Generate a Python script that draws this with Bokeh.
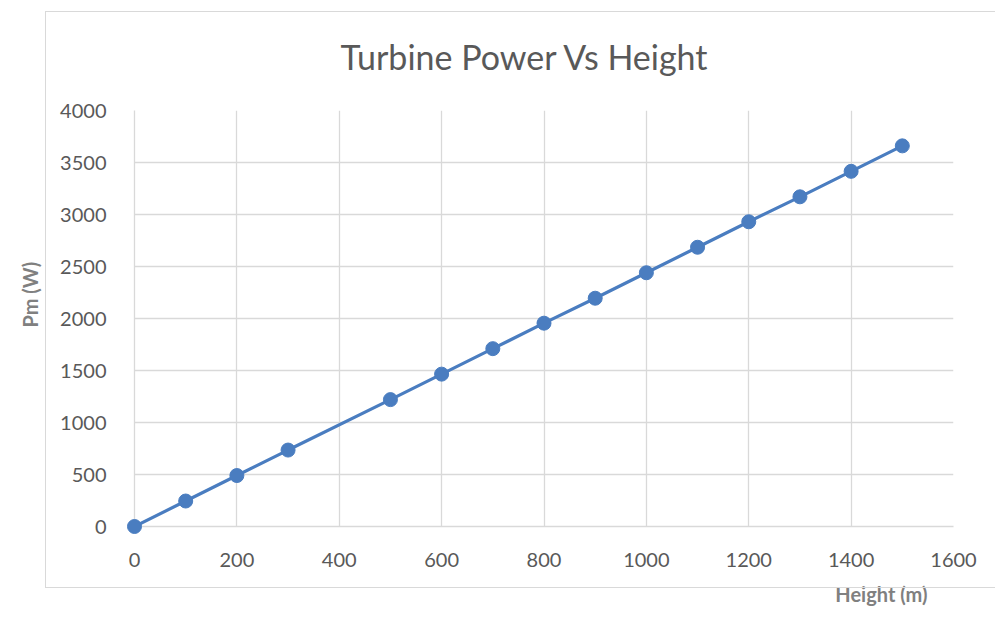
from bokeh.plotting import figure
from bokeh.models import Title, Range1d, FixedTicker, ColumnDataSource, InlineStyleSheet
from bokeh.embed import file_html
from bokeh.resources import INLINE

# Data
height_m = [0, 100, 200, 300, 500, 600, 700, 800, 900, 1000, 1100, 1200, 1300, 1400, 1500]
power_w = [0, 245, 490, 735, 1220, 1465, 1710, 1955, 2195, 2440, 2685, 2930, 3170, 3415, 3660]
x_ticks = [0, 200, 400, 600, 800, 1000, 1200, 1400, 1600]
y_ticks = [0, 500, 1000, 1500, 2000, 2500, 3000, 3500, 4000]

title_text = "Turbine Power Vs Height"
x_title = "Height (m)"
y_title = "Pm (W)"

BLUE = "#4a7dc0"
GRID = "#d9d9d9"
TEXT = "#595959"
LABEL = "#808080"
FONT = "Lato"

W, H = 995, 618
p = figure(width=W, height=H, output_backend="svg", toolbar_location=None,
           x_range=Range1d(0, 1600), y_range=Range1d(0, 4000),
           min_border_left=134, min_border_right=W - 953, min_border_top=110,
           min_border_bottom=H - 526)
p.outline_line_color = None
p.background_fill_color = "white"
p.border_fill_color = "white"

for ax, ticks in ((p.xaxis[0], x_ticks), (p.yaxis[0], y_ticks)):
    ax.ticker = FixedTicker(ticks=ticks)
    ax.axis_line_color = GRID
    ax.axis_line_width = 1.3
    ax.major_tick_line_color = None
    ax.minor_tick_line_color = None
    ax.major_label_text_font = FONT
    ax.major_label_text_font_size = "20px"
    ax.major_label_text_color = TEXT
p.xaxis[0].major_label_standoff = 20
p.yaxis[0].major_label_standoff = 22

p.xgrid[0].ticker = FixedTicker(ticks=x_ticks)
p.ygrid[0].ticker = FixedTicker(ticks=y_ticks)
p.xgrid.grid_line_color = GRID
p.ygrid.grid_line_color = GRID
p.xgrid.grid_line_width = 1.3
p.ygrid.grid_line_width = 1.3

src = ColumnDataSource(dict(x=height_m, y=power_w))
p.line("x", "y", source=src, line_color=BLUE, line_width=3.2)
p.scatter("x", "y", source=src, size=14, fill_color=BLUE, line_color=BLUE, level="overlay")

# chart title
p.title.text = title_text
p.title.align = "left"
p.title.offset = 206
p.title.vertical_align = "top"
p.title.standoff = 64
p.title.text_font = FONT
p.title.text_font_size = "34px"
p.title.text_font_style = "normal"
p.title.text_color = TEXT

# axis titles (placed like the original, outside the chart-area border)
p.add_layout(Title(text=y_title, align="left", offset=199, standoff=28, vertical_align="top",
                   text_font=FONT, text_font_size="20px", text_font_style="bold",
                   text_color=LABEL), "left")
p.add_layout(Title(text=x_title, align="right", offset=26, standoff=20,
                   text_font=FONT, text_font_size="20px", text_font_style="bold",
                   text_color=LABEL), "below")

# chart-area border (left, top and bottom edges; right edge runs off the page)
p.stylesheets = [InlineStyleSheet(css="""
:host { position: relative; }
:host::after {
  content: ""; position: absolute; left: 45px; top: 11px; right: 0px; height: 577px;
  border: 1.5px solid #d9d9d9; border-right: none; box-sizing: border-box;
  pointer-events: none;
}
""")]

open("out.html", "w").write(file_html(p, INLINE))
